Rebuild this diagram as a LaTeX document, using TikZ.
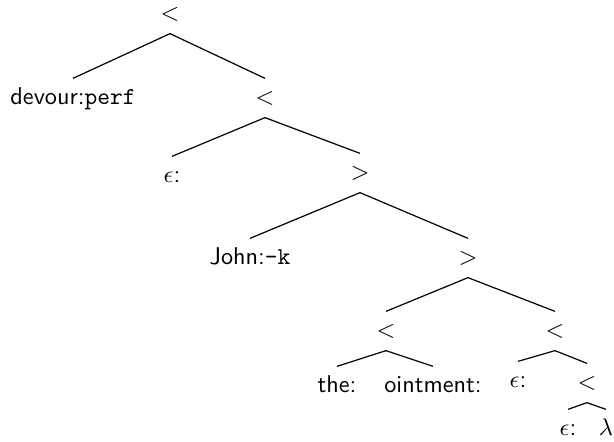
\documentclass[tikz,border=0pt]{standalone}
\usepackage{tikz}
\begin{document}
\begin{tikzpicture}[
  x=0.0145cm, y=-0.0145cm,
  every node/.style={font=\sffamily, text height=7pt, text depth=2pt, inner ysep=3.4pt, inner xsep=1pt},
  op/.style={},
  leaf/.style={},
  branch/.style={line width=0.5pt, draw=black}
]
  \useasboundingbox (0,0) rectangle (614,442);

  % Operators
  \node[op] (r)   at (170, 14)  {$<$};
  \node[op] (n1)  at (265, 98)  {$<$};
  \node[op] (n2)  at (360, 173) {$>$};
  \node[op] (n3)  at (468, 258) {$>$};
  \node[op] (n4)  at (386, 331) {$<$};
  \node[op] (n5)  at (555, 331) {$<$};
  \node[op] (n6)  at (587, 383) {$<$};

  % Leaves
  \node[leaf] (devour)   at (73, 98)   {devour:\texttt{perf}};
  \node[leaf] (eps1)     at (172, 176) {$\epsilon$:};
  \node[leaf] (john)     at (250, 258) {John:\texttt{-k}};
  \node[leaf] (the)      at (337, 386) {the:};
  \node[leaf] (ointment) at (433, 386) {ointment:};
  \node[leaf] (eps2)     at (518, 381) {$\epsilon$:};
  \node[leaf] (eps3)     at (568, 429) {$\epsilon$:};
  \node[leaf] (lam)      at (606, 429) {$\lambda$};

  % Branches
  \draw[branch] (r.south) -- (devour.north);
  \draw[branch] (r.south) -- (n1.north);
  \draw[branch] (n1.south) -- (eps1.north);
  \draw[branch] (n1.south) -- (n2.north);
  \draw[branch] (n2.south) -- (john.north);
  \draw[branch] (n2.south) -- (n3.north);
  \draw[branch] (n3.south) -- (n4.north);
  \draw[branch] (n3.south) -- (n5.north);
  \draw[branch] (n4.south) -- (the.north);
  \draw[branch] (n4.south) -- (ointment.north);
  \draw[branch] (n5.south) -- (eps2.north);
  \draw[branch] (n5.south) -- (n6.north);
  \draw[branch] (n6.south) -- (eps3.north);
  \draw[branch] (n6.south) -- (lam.north);

\end{tikzpicture}
\end{document}
